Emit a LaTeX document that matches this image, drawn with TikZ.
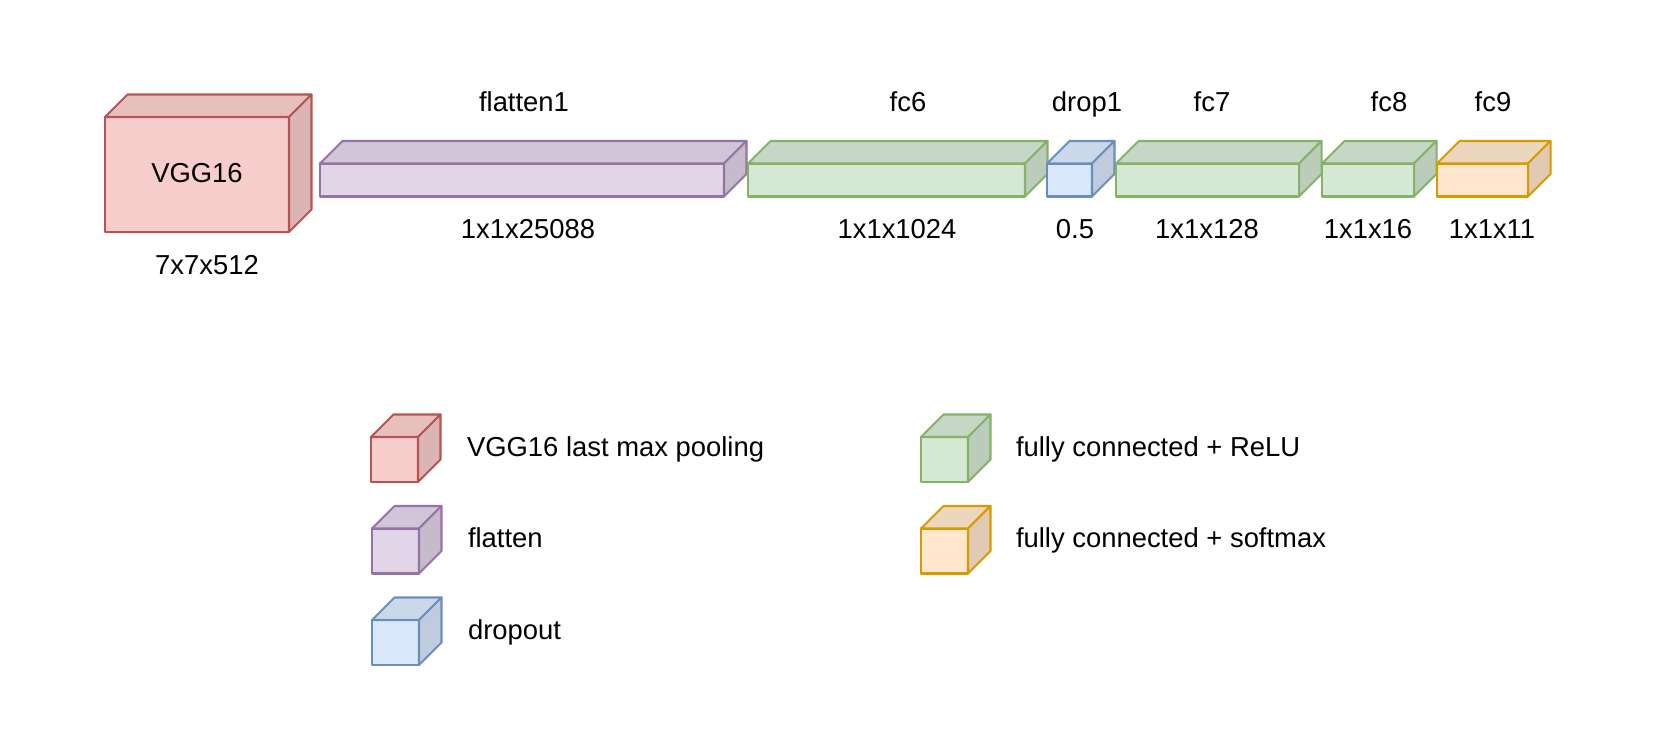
\documentclass[tikz,border=0pt]{standalone}
\usepackage{fontspec}
\setmainfont{Liberation Sans}
\usepackage{tikz}
\usetikzlibrary{calc}

% draw.io colours
\definecolor{poolfill}{HTML}{F8CECC}
\definecolor{poolline}{HTML}{B85450}
\definecolor{flatfill}{HTML}{E1D5E7}
\definecolor{flatline}{HTML}{9673A6}
\definecolor{dropfill}{HTML}{DAE8FC}
\definecolor{dropline}{HTML}{6C8EBF}
\definecolor{fcfill}{HTML}{D5E8D4}
\definecolor{fcline}{HTML}{82B366}
\definecolor{softfill}{HTML}{FFE6CC}
\definecolor{softline}{HTML}{D79B00}

% cuboid: front top-left corner (x,y), width, height, fill, line
\newcommand{\cuboid}[6]{%
  \draw[#6, fill=#5] (#1,#2) rectangle ++(#3,#4);
  \draw[#6, fill=#5!93!black] (#1,#2) -- ++(22.5,-22.5) -- ++(#3,0) -- ++(-22.5,22.5) -- cycle;
  \draw[#6, fill=#5!88!black] ({#1+#3},#2) -- ++(22.5,-22.5) -- ++(0,#4) -- ++(-22.5,22.5) -- cycle;
}

\tikzset{
  lbl/.style={anchor=base, inner sep=0pt, font=\fontsize{15.6}{18}\selectfont},
  keytext/.style={lbl, anchor=base west}
}

\begin{document}
\begin{tikzpicture}[x=0.02cm, y=-0.02cm, line width=1.15pt, line join=round]
        \useasboundingbox[fill=white] (0,0) rectangle (1668,756);

        % Network layers
        \cuboid{105}{117}{184}{115}{poolfill}{poolline}
        \cuboid{320}{163.5}{404}{33}{flatfill}{flatline}
        \cuboid{748}{163.5}{277}{33}{fcfill}{fcline}
        \cuboid{1047}{163.5}{45}{33}{dropfill}{dropline}
        \cuboid{1116}{163.5}{183}{33}{fcfill}{fcline}
        \cuboid{1322}{163.5}{92}{33}{fcfill}{fcline}
        \cuboid{1437}{163.5}{91}{33}{softfill}{softline}

        % Layer names
        \node[lbl] (vgg) at (197,182.5) {VGG16};
        \node[lbl] (flatname) at (524,111.5) {flatten1};
        \node[lbl] (fc6name) at (908,111.5) {fc6};
        \node[lbl] (dropname) at (1087,111.5) {drop1};
        \node[lbl] (fc7name) at (1212,111.5) {fc7};
        \node[lbl] (fc8name) at (1389,111.5) {fc8};
        \node[lbl] (fc9name) at (1493,111.5) {fc9};

        % Layer sizes
        \node[lbl] (vggsize) at (207,275) {7x7x512};
        \node[lbl] (flatsize) at (528,238.5) {1x1x25088};
        \node[lbl] (fc6size) at (897,238.5) {1x1x1024};
        \node[lbl] (droprate) at (1075,238.5) {0.5};
        \node[lbl] (fc7size) at (1207,238.5) {1x1x128};
        \node[lbl] (fc8size) at (1368,238.5) {1x1x16};
        \node[lbl] (fc9size) at (1492,238.5) {1x1x11};

        % Legend
        \cuboid{371}{437}{47}{45}{poolfill}{poolline}
        \cuboid{372}{528.5}{47}{45}{flatfill}{flatline}
        \cuboid{372}{620}{47}{45}{dropfill}{dropline}
        \cuboid{921}{437}{47}{45}{fcfill}{fcline}
        \cuboid{921}{528.5}{47}{45}{softfill}{softline}

        \node[keytext] (keypool) at (466,456.5) {VGG16 last max pooling};
        \node[keytext] (keyflat) at (467,548) {flatten};
        \node[keytext] (keydrop) at (467,639.5) {dropout};
        \node[keytext] (keyrelu) at (1015,456.5) {fully connected + ReLU};
        \node[keytext] (keysoft) at (1015,548) {fully connected + softmax};
    \end{tikzpicture}
\end{document}
